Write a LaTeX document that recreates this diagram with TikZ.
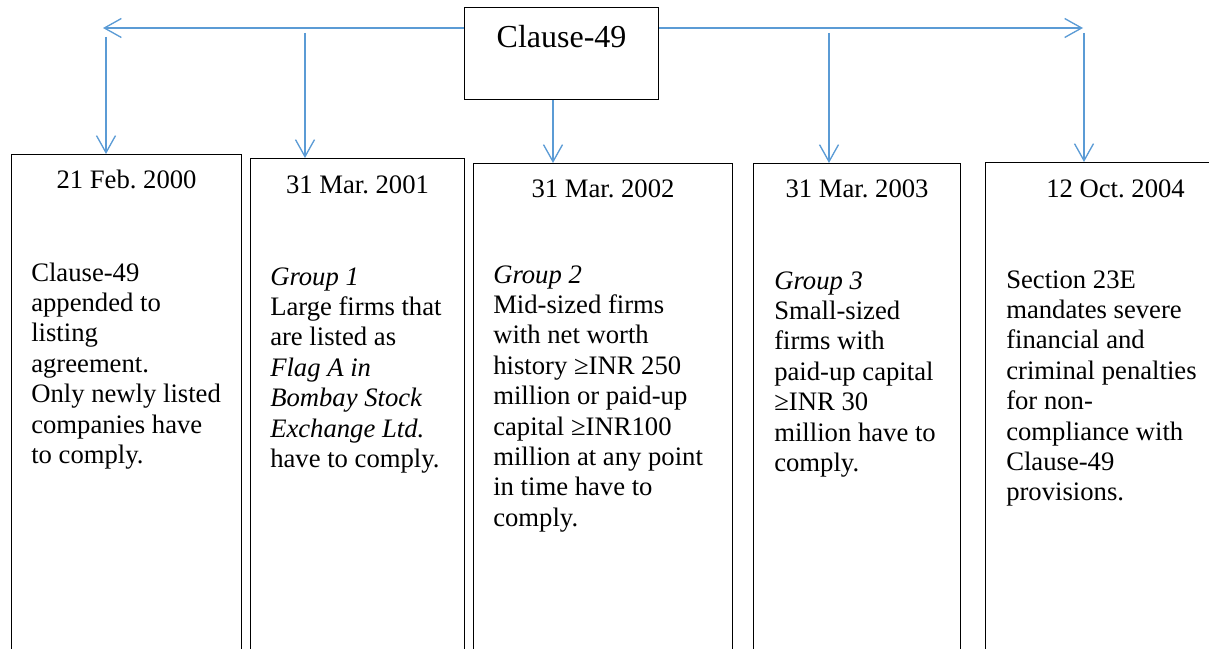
\documentclass[tikz,border=0pt]{standalone}
\usepackage{fontspec}
\setmainfont{Liberation Serif}
\usepackage{tikz}
\usetikzlibrary{arrows.meta,calc}
\definecolor{lineblue}{HTML}{5B9BD5}
\frenchspacing

\tikzset{
    arr/.style={draw=lineblue, line width=1pt, -{Straight Barb[length=12.75pt,width=14.25pt]}},
    datebox/.style={draw=black, line width=0.8pt, rectangle, inner sep=0pt, anchor=north west, minimum height=390pt},
    datetext/.style={anchor=base, inner sep=0pt, font=\fontsize{20}{22.8}\selectfont},
    bodytext/.style={anchor=north west, inner sep=0pt, align=left, font=\fontsize{20}{22.8}\selectfont}
}

\begin{document}
\begin{tikzpicture}[x=0.75pt, y=-0.75pt]

        % Fix the frame of the picture
        \useasboundingbox (0,0) rectangle (1209,649);
        \clip (0,0) rectangle (1209,649);

        % Draw the top box
        \node[draw=black, line width=0.8pt, anchor=north west, inner sep=0pt,
              minimum width=145.5pt, text height=30pt, text depth=39pt,
              font=\fontsize{24}{28}\selectfont] (clause) at (464,7) {Clause-49};

        % Draw the five boxes
        \node[datebox, minimum width=172.5pt] (b1) at (11,154) {};
        \node[datebox, minimum width=160.5pt] (b2) at (250,158) {};
        \node[datebox, minimum width=194.25pt] (b3) at (473,163) {};
        \node[datebox, minimum width=155.25pt] (b4) at (753,163) {};
        \node[datebox, minimum width=195pt] (b5) at (985,162) {};

        % Dates
        \node[datetext] (d1) at ($(b1.north)+(0,35)$) {21 Feb. 2000};
        \node[datetext] (d2) at ($(b2.north)+(0,35)$) {31 Mar. 2001};
        \node[datetext] (d3) at ($(b3.north)+(0,34)$) {31 Mar. 2002};
        \node[datetext] (d4) at ($(b4.north)+(0,34)$) {31 Mar. 2003};
        \node[datetext] (d5) at ($(b5.north)+(0,35)$) {12 Oct. 2004};

        % Texts
        \node[bodytext] (t1) at ($(b1.north west)+(20,105.6)$)
            {\strut Clause-49\\appended to\\listing\\agreement.\\Only newly listed\\companies have\\to comply.};
        \node[bodytext] (t2) at ($(b2.north west)+(20,105.6)$)
            {\strut\textit{Group 1}\\Large firms that\\are listed as\\\textit{Flag A in}\\\textit{Bombay Stock}\\\textit{Exchange Ltd.}\\have to comply.};
        \node[bodytext] (t3) at ($(b3.north west)+(20,98.6)$)
            {\strut\textit{Group 2}\\Mid-sized firms\\with net worth\\history ≥INR 250\\million or paid-up\\capital ≥INR100\\million at any point\\in time have to\\comply.};
        \node[bodytext] (t4) at ($(b4.north west)+(21,104.6)$)
            {\strut\textit{Group 3}\\Small-sized\\firms with\\paid-up capital\\≥INR 30\\million have to\\comply.};
        \node[bodytext] (t5) at ($(b5.north west)+(21,104.6)$)
            {\strut Section 23E\\mandates severe\\financial and\\criminal penalties\\for non-\\compliance with\\Clause-49\\provisions.};

        % Horizontal arrows
        \coordinate (lend) at (103,28);
        \coordinate (rend) at (1083,28);
        \draw[arr] (lend -| clause.west) -- (lend);
        \draw[arr] (rend -| clause.east) -- (rend);

        % Arrows down to the boxes
        \coordinate (v1) at (106,37);
        \coordinate (v2) at (305,33);
        \coordinate (v3) at (553,0);
        \coordinate (v4) at (829,33);
        \coordinate (v5) at (1084,33);
        \draw[arr] (v1) -- (v1 |- b1.north);
        \draw[arr] (v2) -- (v2 |- b2.north);
        \draw[arr] (v3 |- clause.south) -- (v3 |- b3.north);
        \draw[arr] (v4) -- (v4 |- b4.north);
        \draw[arr] (v5) -- (v5 |- b5.north);

\end{tikzpicture}
\end{document}
